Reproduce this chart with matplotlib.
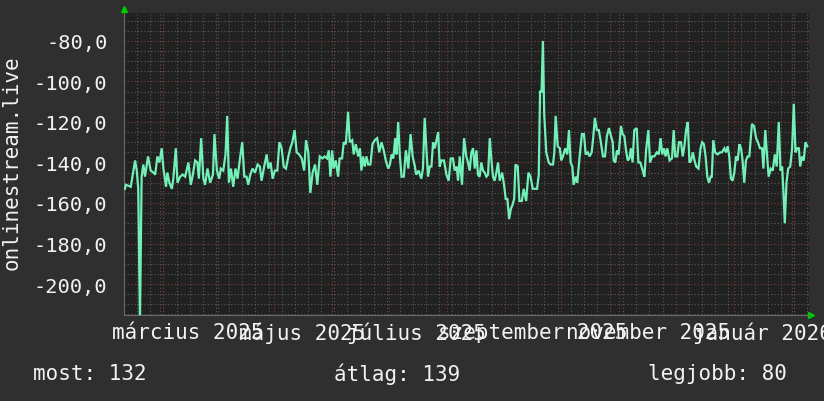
import datetime as dt
import matplotlib
matplotlib.use("Agg")
import matplotlib.pyplot as plt
import matplotlib.dates as mdates
from matplotlib.ticker import FuncFormatter, MultipleLocator

# daily rank of onlinestream.live (plotted as negative numbers, like the rrd graph)
start_date = dt.datetime(2025, 2, 10)
day_offsets = [
    0.5, 1, 3.6, 5.9, 6.8, 7.6, 8.5, 9.4, 10.3, 11.2, 12.8, 14.2, 15.7, 16.6, 17.8, 18.9,
    20.1, 21, 22.4, 23.1, 24.2, 25.5, 26.3, 27.6, 28.5, 29.9, 31.3, 32.6, 34.3, 35.6, 36.7,
    37.9, 39.1, 39.9, 41.1, 42.3, 43.2, 44.5, 45.9, 47.4, 48.2, 49.5, 50.7,
    51.6, 52.9, 54.1, 55, 55.9, 57, 58.2, 59.4, 60.5, 61.8, 63, 64.1, 65.3, 66.2, 67.3,
    68.5, 69.8, 71.2, 72.4, 73.3, 74.7, 76, 76.9, 78.1, 79.2, 80.4, 81.7, 82.8, 84, 85.1,
    86.3, 87.6, 88.6, 89.7, 90.9, 92, 93.3, 94.7, 96, 97, 98.2, 99.3, 100.5, 101.8, 103,
    104.3, 105.7, 106.9, 108.2, 109.1, 110, 110.9, 111.7, 112.8, 114.1, 114.9, 116.2,
    117.1, 118.2, 119.4, 120.3, 121.6, 122.4, 123.5, 124.8, 125.7, 126.5, 127.4, 128.3,
    129.2, 130.1, 131.3, 132.4, 133.6, 134.9, 136, 137.2, 138.4, 139.5, 140.8, 141.7,
    142.6, 143.5, 144.5, 145.2, 146.1, 147, 147.9, 149.1, 150.2, 151.5, 152.7, 153.8,
    155, 155.7, 157, 158.4, 159.3, 160.2, 161.1, 162, 162.9, 163.8, 164.7, 165.6, 166.5,
    167.4, 168.2, 169.1, 170.5, 171.8, 173, 174.1, 175.3, 176.2, 177.3, 178, 178.9,
    180.1, 181.2, 182.4, 183.3, 184.2, 185.1, 186, 186.9, 187.8, 188.6, 189.5, 190.4,
    191.3, 192.2, 193.1, 194, 194.9, 195.8, 196.6, 197.5, 198.4, 199.3, 200.2, 201.5,
    202.5, 203.4, 204.3, 205.2, 206.1, 207, 207.9, 208.6, 209.8, 210.7, 212, 213, 214.3,
    215.5, 216.6, 217.8, 219.1, 220.1, 221, 221.7, 222.5, 223.2, 223.9, 225, 226.3,
    227.3, 228.6, 229.3, 230, 231.1, 232.2, 233, 233.9, 235.1, 236.2, 237.1, 238, 238.9,
    239.6, 240.7, 241.5, 242.8, 244, 245.1, 246, 247.1, 248.1, 249.2, 250, 250.9, 252,
    253, 254.1, 255.2, 256.3, 257.3, 258.4, 259.5, 260.4, 260.9, 261.8, 262.7, 263.6,
    264.8, 265.7, 266.6, 267.5, 268.4, 269.3, 270.1, 271, 271.9, 273.2, 274.1, 275.1,
    276.4, 277.3, 278.2, 279.4, 280.3, 281.4, 282.6, 283.9, 285, 285.9, 286.8, 287.7,
    288.6, 289.5, 290.7, 292, 292.9, 293.7, 294.8, 295.7, 296.8, 297.7, 298.6, 299.5,
    300.4, 301.3, 302.2, 303.1, 304, 304.9, 306.1, 307.2, 308.1, 309, 309.9, 310.8,
    311.7, 312.6, 313.2, 314, 315, 316.3, 317.6, 318.6, 319.9, 320.8, 321.7, 322.5,
    323.4, 324.3, 325.2, 326.1, 327, 327.9, 328.8, 329.6, 330.5, 331.4, 332.3, 333.2,
    334.6, 335.7, 336.8, 337.8, 338.9, 340, 340.7, 341.7, 342.6, 343.5, 344.6, 345.7,
    346.8, 347.8, 348.9, 349.8, 350.7, 351.4, 352.1, 353, 353.9, 355, 356, 356.9, 357.8,
    358.7, 359.6, 360.3, 361.3, 362.2, 363.1, 364.1,
]
ranks = [
    153, 151, 152, 139, 144, 153, 218, 147, 141, 147, 137, 144, 145, 146, 137, 140,
    133, 143, 152, 145, 150, 153, 148, 133, 150, 147, 146, 147, 140, 151, 146,
    139, 140, 148, 128, 148, 151, 143, 150, 146, 126, 144, 148,
    143, 144, 136, 117, 150, 143, 152, 143, 148, 138, 130, 147, 147, 151, 146,
    143, 145, 141, 142, 149, 142, 136, 143, 140, 148, 144, 144, 130, 133, 142,
    143, 137, 133, 130, 124, 135, 136, 138, 144, 129, 135, 155, 145, 141, 151,
    137, 138, 137, 138, 134, 147, 134, 143, 139, 147, 138, 138,
    130, 131, 115, 130, 129, 136, 131, 137, 133, 144, 137, 142,
    137, 141, 141, 131, 129, 128, 135, 130, 134, 139, 143, 141,
    136, 138, 128, 136, 120, 137, 147, 147, 134, 143, 126, 137,
    142, 146, 144, 148, 143, 118, 133, 147, 142, 142, 130, 133, 129,
    125, 142, 139, 139, 146, 149, 138, 138, 144, 142, 149, 137,
    151, 128, 137, 140, 144, 135, 133, 143, 134, 146, 147, 140,
    144, 145, 147, 146, 128, 139, 147, 149, 145, 140, 149, 145,
    151, 158, 158, 168, 163, 161, 158, 141, 142, 159, 159, 153, 159,
    145, 147, 153, 153, 153, 146, 105, 105, 80, 116, 135, 140,
    141, 141, 135, 117, 132, 133, 139, 137, 133, 136, 124, 140, 142,
    151, 147, 150, 137, 126, 126, 136, 135, 137, 135, 128, 118, 124,
    124, 130, 137, 137, 127, 123, 127, 130, 139, 140, 134, 136,
    122, 126, 127, 134, 139, 138, 133, 140, 124, 123, 140, 140,
    144, 147, 134, 124, 140, 137, 137, 135, 136, 128, 136, 133,
    137, 133, 139, 138, 124, 137, 137, 130, 130, 137, 132, 124,
    120, 140, 139, 135, 139, 142, 143, 133, 130, 131, 137, 147,
    150, 147, 147, 129, 135, 136, 135, 135, 133, 135, 132, 137,
    148, 149, 145, 137, 139, 131, 133, 139, 150, 139, 137, 137,
    121, 122, 128, 130, 133, 133, 143, 124, 136, 147, 143, 144,
    136, 142, 120, 144, 142, 155, 170, 150, 143, 142, 133, 111, 135,
    133, 133, 142, 137, 139, 130, 132,
]
month_label_dates = [dt.datetime(2025, 3, 16), dt.datetime(2025, 5, 16), dt.datetime(2025, 7, 16),
                     dt.datetime(2025, 9, 16), dt.datetime(2025, 11, 16), dt.datetime(2026, 1, 16)]
month_labels = ["március 2025", "május 2025", "július 2025",
                "szeptember 2025", "november 2025", "január 2026"]
stats = [("most:", 132), ("átlag:", 139), ("legjobb:", 80)]

BG = "#2f2f2f"
PLOT_BG = "#212121"
LINE = "#72f0b8"
TXT = "#f2f2f2"
FONT = "DejaVu Sans Mono"

dates = [start_date + dt.timedelta(days=d) for d in day_offsets]
values = [-r for r in ranks]

fig = plt.figure(figsize=(8.24, 4.02), dpi=100, facecolor=BG)
ax = fig.add_axes([124 / 824, 86 / 402, 685 / 824, 302 / 402], facecolor=PLOT_BG)

ax.plot(dates, values, color=LINE, lw=1.6, solid_joinstyle="miter", zorder=3)

ax.set_xlim(start_date, start_date + dt.timedelta(days=365))
ax.set_ylim(-215.3, -66.2)

# grid like rrdtool: gray minor, reddish major, dotted
ax.xaxis.set_major_locator(mdates.MonthLocator())
ax.xaxis.set_minor_locator(mdates.WeekdayLocator(byweekday=mdates.MO))
ax.yaxis.set_major_locator(MultipleLocator(20))
ax.yaxis.set_minor_locator(MultipleLocator(5))
ax.grid(which="minor", color="#5c5c5c", linestyle=(0, (1, 2)), lw=0.8, zorder=1)
ax.grid(which="major", color="#8a3a3a", linestyle=(0, (1, 2)), lw=0.8, zorder=2)
ax.set_axisbelow(True)

ax.yaxis.set_major_formatter(FuncFormatter(lambda v, p: f"{v:.1f}".replace(".", ",")))
ax.tick_params(axis="y", which="both", length=0, pad=12, labelcolor=TXT, labelsize=14.7)
ax.tick_params(axis="x", which="both", length=0, labelbottom=False)
for lbl in ax.get_yticklabels():
    lbl.set_fontfamily(FONT)

# month labels, centred in the month (secondary axis so the grid stays on month starts)
sec = ax.secondary_xaxis("bottom")
sec.set_xticks(month_label_dates)
sec.set_xticklabels(month_labels, fontfamily=FONT, fontsize=15, color=TXT)
sec.tick_params(length=0, pad=5)
sec.spines["bottom"].set_visible(False)

for side in ["top", "right"]:
    ax.spines[side].set_visible(False)
for side in ["left", "bottom"]:
    ax.spines[side].set_color("#6a6a6a")
    ax.spines[side].set_linewidth(0.8)

# little green arrows at the axis ends
ax.plot([0], [1.012], marker="^", color="#00cc00", ms=5, transform=ax.transAxes, clip_on=False)
ax.plot([1.003], [0.0], marker=">", color="#00cc00", ms=5, transform=ax.transAxes, clip_on=False)

fig.text(12 / 824, 1 - 163 / 402, "onlinestream.live", rotation=90, ha="center", va="center",
         fontfamily=FONT, fontsize=15, color=TXT)

stat_x = [33, 334, 648]
for (name, val), x in zip(stats, stat_x):
    fig.text(x / 824, 1 - 374 / 402, f"{name} {val}", ha="left", va="center",
             fontfamily=FONT, fontsize=15, color=TXT)

fig.savefig("out.png", dpi=100, facecolor=BG)
